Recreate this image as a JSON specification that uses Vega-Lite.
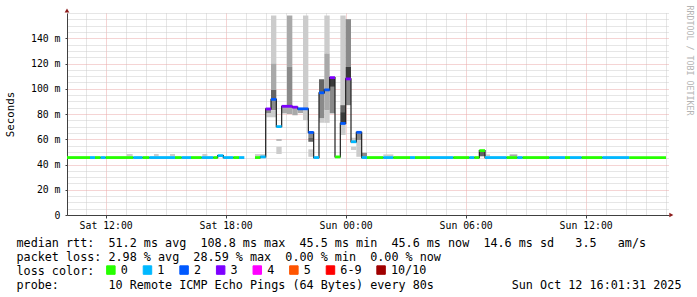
{
  "$schema": "https://vega.github.io/schema/vega-lite/v6.json",
  "width": 602,
  "height": 202,
  "autosize": {"type": "none"},
  "padding": {"left": 67, "top": 13, "right": 28, "bottom": 82},
  "background": "white",
  "config": {"view": {"stroke": null}, "font": "DejaVu Sans Mono"},
  "datasets": {
    "med": [
      {"seg": "a", "t": "2025-10-11T10:04:00Z", "t2": "2025-10-11T11:13:00Z", "v": 45.5, "loss": "0"},
      {"seg": "a", "t": "2025-10-11T11:13:00Z", "t2": "2025-10-11T11:28:00Z", "v": 45.5, "loss": "1"},
      {"seg": "a", "t": "2025-10-11T11:28:00Z", "t2": "2025-10-11T11:45:00Z", "v": 45.5, "loss": "0"},
      {"seg": "a", "t": "2025-10-11T11:45:00Z", "t2": "2025-10-11T12:00:00Z", "v": 45.5, "loss": "1"},
      {"seg": "a", "t": "2025-10-11T12:00:00Z", "t2": "2025-10-11T13:23:00Z", "v": 45.5, "loss": "0"},
      {"seg": "a", "t": "2025-10-11T13:23:00Z", "t2": "2025-10-11T13:51:00Z", "v": 45.5, "loss": "1"},
      {"seg": "a", "t": "2025-10-11T13:51:00Z", "t2": "2025-10-11T14:11:00Z", "v": 45.5, "loss": "0"},
      {"seg": "a", "t": "2025-10-11T14:11:00Z", "t2": "2025-10-11T15:28:00Z", "v": 45.5, "loss": "1"},
      {"seg": "a", "t": "2025-10-11T15:28:00Z", "t2": "2025-10-11T15:48:00Z", "v": 45.5, "loss": "0"},
      {"seg": "a", "t": "2025-10-11T15:48:00Z", "t2": "2025-10-11T16:16:00Z", "v": 45.5, "loss": "1"},
      {"seg": "a", "t": "2025-10-11T16:16:00Z", "t2": "2025-10-11T16:48:00Z", "v": 45.5, "loss": "0"},
      {"seg": "a", "t": "2025-10-11T16:48:00Z", "t2": "2025-10-11T17:23:00Z", "v": 45.5, "loss": "1"},
      {"seg": "a", "t": "2025-10-11T17:23:00Z", "t2": "2025-10-11T17:36:00Z", "v": 45.5, "loss": "0"},
      {"seg": "a", "t": "2025-10-11T17:36:00Z", "t2": "2025-10-11T17:53:00Z", "v": 47, "loss": "1"},
      {"seg": "a", "t": "2025-10-11T17:53:00Z", "t2": "2025-10-11T18:23:00Z", "v": 45.5, "loss": "1"},
      {"seg": "a", "t": "2025-10-11T18:23:00Z", "t2": "2025-10-11T18:40:00Z", "v": 45.5, "loss": "0"},
      {"seg": "a", "t": "2025-10-11T18:40:00Z", "t2": "2025-10-11T18:56:00Z", "v": 45.5, "loss": "1"},
      {"seg": "b", "t": "2025-10-11T19:28:00Z", "t2": "2025-10-11T19:44:00Z", "v": 45.5, "loss": "0"},
      {"seg": "b", "t": "2025-10-11T19:44:00Z", "t2": "2025-10-11T20:00:00Z", "v": 46, "loss": "1"},
      {"seg": "b", "t": "2025-10-11T20:00:00Z", "t2": "2025-10-11T20:16:00Z", "v": 84, "loss": "3"},
      {"seg": "b", "t": "2025-10-11T20:16:00Z", "t2": "2025-10-11T20:32:00Z", "v": 91.6, "loss": "2"},
      {"seg": "b", "t": "2025-10-11T20:32:00Z", "t2": "2025-10-11T20:48:00Z", "v": 70, "loss": "1"},
      {"seg": "b", "t": "2025-10-11T20:48:00Z", "t2": "2025-10-11T21:04:00Z", "v": 86.1, "loss": "3"},
      {"seg": "b", "t": "2025-10-11T21:04:00Z", "t2": "2025-10-11T21:20:00Z", "v": 86.1, "loss": "3"},
      {"seg": "b", "t": "2025-10-11T21:20:00Z", "t2": "2025-10-11T21:36:00Z", "v": 85.4, "loss": "3"},
      {"seg": "b", "t": "2025-10-11T21:36:00Z", "t2": "2025-10-11T21:52:00Z", "v": 84.1, "loss": "2"},
      {"seg": "b", "t": "2025-10-11T21:52:00Z", "t2": "2025-10-11T22:08:00Z", "v": 84.1, "loss": "2"},
      {"seg": "b", "t": "2025-10-11T22:08:00Z", "t2": "2025-10-11T22:24:00Z", "v": 65.4, "loss": "2"},
      {"seg": "b", "t": "2025-10-11T22:24:00Z", "t2": "2025-10-11T22:40:00Z", "v": 45.5, "loss": "1"},
      {"seg": "b", "t": "2025-10-11T22:40:00Z", "t2": "2025-10-11T22:56:00Z", "v": 96.8, "loss": "2"},
      {"seg": "b", "t": "2025-10-11T22:56:00Z", "t2": "2025-10-11T23:12:00Z", "v": 99.1, "loss": "2"},
      {"seg": "b", "t": "2025-10-11T23:12:00Z", "t2": "2025-10-11T23:28:00Z", "v": 108.8, "loss": "3"},
      {"seg": "b", "t": "2025-10-11T23:28:00Z", "t2": "2025-10-11T23:44:00Z", "v": 46, "loss": "0"},
      {"seg": "b", "t": "2025-10-11T23:44:00Z", "t2": "2025-10-12T00:00:00Z", "v": 72.5, "loss": "2"},
      {"seg": "b", "t": "2025-10-12T00:00:00Z", "t2": "2025-10-12T00:16:00Z", "v": 107.8, "loss": "3"},
      {"seg": "b", "t": "2025-10-12T00:16:00Z", "t2": "2025-10-12T00:32:00Z", "v": 58, "loss": "1"},
      {"seg": "b", "t": "2025-10-12T00:32:00Z", "t2": "2025-10-12T00:48:00Z", "v": 65.5, "loss": "2"},
      {"seg": "b", "t": "2025-10-12T00:48:00Z", "t2": "2025-10-12T01:04:00Z", "v": 45.5, "loss": "1"},
      {"seg": "b", "t": "2025-10-12T01:04:00Z", "t2": "2025-10-12T01:53:00Z", "v": 45.5, "loss": "0"},
      {"seg": "b", "t": "2025-10-12T01:53:00Z", "t2": "2025-10-12T02:23:00Z", "v": 45.5, "loss": "1"},
      {"seg": "b", "t": "2025-10-12T02:23:00Z", "t2": "2025-10-12T03:13:00Z", "v": 45.5, "loss": "0"},
      {"seg": "b", "t": "2025-10-12T03:13:00Z", "t2": "2025-10-12T03:28:00Z", "v": 45.5, "loss": "1"},
      {"seg": "b", "t": "2025-10-12T03:28:00Z", "t2": "2025-10-12T04:13:00Z", "v": 45.5, "loss": "0"},
      {"seg": "b", "t": "2025-10-12T04:13:00Z", "t2": "2025-10-12T05:23:00Z", "v": 45.5, "loss": "1"},
      {"seg": "b", "t": "2025-10-12T05:23:00Z", "t2": "2025-10-12T06:11:00Z", "v": 45.5, "loss": "0"},
      {"seg": "b", "t": "2025-10-12T06:11:00Z", "t2": "2025-10-12T06:26:00Z", "v": 45.5, "loss": "1"},
      {"seg": "b", "t": "2025-10-12T06:26:00Z", "t2": "2025-10-12T06:41:00Z", "v": 45.5, "loss": "0"},
      {"seg": "b", "t": "2025-10-12T06:41:00Z", "t2": "2025-10-12T06:58:00Z", "v": 51, "loss": "0"},
      {"seg": "b", "t": "2025-10-12T06:58:00Z", "t2": "2025-10-12T08:03:00Z", "v": 45.5, "loss": "1"},
      {"seg": "b", "t": "2025-10-12T08:03:00Z", "t2": "2025-10-12T08:35:00Z", "v": 45.5, "loss": "0"},
      {"seg": "b", "t": "2025-10-12T08:35:00Z", "t2": "2025-10-12T08:51:00Z", "v": 45.5, "loss": "1"},
      {"seg": "b", "t": "2025-10-12T08:51:00Z", "t2": "2025-10-12T10:11:00Z", "v": 45.5, "loss": "0"},
      {"seg": "b", "t": "2025-10-12T10:11:00Z", "t2": "2025-10-12T10:58:00Z", "v": 45.5, "loss": "1"},
      {"seg": "b", "t": "2025-10-12T10:58:00Z", "t2": "2025-10-12T11:13:00Z", "v": 45.5, "loss": "0"},
      {"seg": "b", "t": "2025-10-12T11:13:00Z", "t2": "2025-10-12T11:48:00Z", "v": 45.5, "loss": "1"},
      {"seg": "b", "t": "2025-10-12T11:48:00Z", "t2": "2025-10-12T12:50:00Z", "v": 45.5, "loss": "0"},
      {"seg": "b", "t": "2025-10-12T12:50:00Z", "t2": "2025-10-12T14:11:00Z", "v": 45.5, "loss": "1"},
      {"seg": "b", "t": "2025-10-12T14:11:00Z", "t2": "2025-10-12T16:01:00Z", "v": 45.5, "loss": "0"}
    ],
    "smoke": [
      {"t": "2025-10-11T13:03:00Z", "t2": "2025-10-11T13:21:00Z", "lo": 46.5, "hi": 48.3, "shade": "s1"},
      {"t": "2025-10-11T14:25:00Z", "t2": "2025-10-11T14:39:00Z", "lo": 46.5, "hi": 48.3, "shade": "s1"},
      {"t": "2025-10-11T15:13:00Z", "t2": "2025-10-11T15:28:00Z", "lo": 46.5, "hi": 48.3, "shade": "s1"},
      {"t": "2025-10-11T16:50:00Z", "t2": "2025-10-11T17:05:00Z", "lo": 46.5, "hi": 48.3, "shade": "s1"},
      {"t": "2025-10-11T19:28:00Z", "t2": "2025-10-11T20:00:00Z", "lo": 46.5, "hi": 48.2, "shade": "s1"},
      {"t": "2025-10-12T01:53:00Z", "t2": "2025-10-12T02:23:00Z", "lo": 46.5, "hi": 48, "shade": "s1"},
      {"t": "2025-10-12T06:58:00Z", "t2": "2025-10-12T07:13:00Z", "lo": 46.5, "hi": 48, "shade": "s1"},
      {"t": "2025-10-12T08:12:00Z", "t2": "2025-10-12T08:35:00Z", "lo": 46.5, "hi": 48, "shade": "s2"},
      {"t": "2025-10-12T06:41:00Z", "t2": "2025-10-12T06:58:00Z", "lo": 46.5, "hi": 50, "shade": "s4"},
      {"t": "2025-10-11T20:00:00Z", "t2": "2025-10-11T20:16:00Z", "lo": 80.5, "hi": 84, "shade": "s3"},
      {"t": "2025-10-11T20:00:00Z", "t2": "2025-10-11T20:16:00Z", "lo": 77.4, "hi": 80.5, "shade": "s1"},
      {"t": "2025-10-11T20:16:00Z", "t2": "2025-10-11T20:32:00Z", "lo": 120, "hi": 158, "shade": "s1"},
      {"t": "2025-10-11T20:16:00Z", "t2": "2025-10-11T20:32:00Z", "lo": 99, "hi": 120, "shade": "s2"},
      {"t": "2025-10-11T20:16:00Z", "t2": "2025-10-11T20:32:00Z", "lo": 92, "hi": 99, "shade": "s4"},
      {"t": "2025-10-11T20:16:00Z", "t2": "2025-10-11T20:32:00Z", "lo": 83, "hi": 92, "shade": "s3"},
      {"t": "2025-10-11T20:16:00Z", "t2": "2025-10-11T20:32:00Z", "lo": 77.4, "hi": 83, "shade": "s1"},
      {"t": "2025-10-11T20:32:00Z", "t2": "2025-10-11T20:48:00Z", "lo": 58.8, "hi": 60, "shade": "s2"},
      {"t": "2025-10-11T20:32:00Z", "t2": "2025-10-11T20:48:00Z", "lo": 48.3, "hi": 54, "shade": "s1"},
      {"t": "2025-10-11T20:48:00Z", "t2": "2025-10-11T21:04:00Z", "lo": 80.5, "hi": 86, "shade": "s2"},
      {"t": "2025-10-11T21:04:00Z", "t2": "2025-10-11T21:20:00Z", "lo": 117.3, "hi": 158, "shade": "s2"},
      {"t": "2025-10-11T21:04:00Z", "t2": "2025-10-11T21:20:00Z", "lo": 86, "hi": 117.3, "shade": "s3"},
      {"t": "2025-10-11T21:04:00Z", "t2": "2025-10-11T21:20:00Z", "lo": 80, "hi": 86, "shade": "s2"},
      {"t": "2025-10-11T21:20:00Z", "t2": "2025-10-11T21:36:00Z", "lo": 79, "hi": 85.4, "shade": "s2"},
      {"t": "2025-10-11T21:36:00Z", "t2": "2025-10-11T21:52:00Z", "lo": 80.7, "hi": 84, "shade": "s2"},
      {"t": "2025-10-11T21:52:00Z", "t2": "2025-10-11T22:08:00Z", "lo": 84, "hi": 158, "shade": "s1"},
      {"t": "2025-10-11T21:52:00Z", "t2": "2025-10-11T22:08:00Z", "lo": 75.2, "hi": 84, "shade": "s1"},
      {"t": "2025-10-11T22:08:00Z", "t2": "2025-10-11T22:24:00Z", "lo": 61, "hi": 65.4, "shade": "s3"},
      {"t": "2025-10-11T22:08:00Z", "t2": "2025-10-11T22:24:00Z", "lo": 58, "hi": 61, "shade": "s4"},
      {"t": "2025-10-11T22:08:00Z", "t2": "2025-10-11T22:24:00Z", "lo": 46.1, "hi": 52, "shade": "s1"},
      {"t": "2025-10-11T22:40:00Z", "t2": "2025-10-11T22:56:00Z", "lo": 96.8, "hi": 107.6, "shade": "s4"},
      {"t": "2025-10-11T22:40:00Z", "t2": "2025-10-11T22:56:00Z", "lo": 76.5, "hi": 96.8, "shade": "s3"},
      {"t": "2025-10-11T22:40:00Z", "t2": "2025-10-11T22:56:00Z", "lo": 73, "hi": 76.5, "shade": "s1"},
      {"t": "2025-10-11T22:56:00Z", "t2": "2025-10-11T23:12:00Z", "lo": 127.9, "hi": 158, "shade": "s1"},
      {"t": "2025-10-11T22:56:00Z", "t2": "2025-10-11T23:12:00Z", "lo": 99.1, "hi": 127.9, "shade": "s2"},
      {"t": "2025-10-11T22:56:00Z", "t2": "2025-10-11T23:12:00Z", "lo": 83.1, "hi": 99.1, "shade": "s2"},
      {"t": "2025-10-11T22:56:00Z", "t2": "2025-10-11T23:12:00Z", "lo": 73, "hi": 83.1, "shade": "s1"},
      {"t": "2025-10-11T23:12:00Z", "t2": "2025-10-11T23:28:00Z", "lo": 101.5, "hi": 108.8, "shade": "s5"},
      {"t": "2025-10-11T23:12:00Z", "t2": "2025-10-11T23:28:00Z", "lo": 80.5, "hi": 101.5, "shade": "s3"},
      {"t": "2025-10-11T23:44:00Z", "t2": "2025-10-12T00:00:00Z", "lo": 87, "hi": 158, "shade": "s1"},
      {"t": "2025-10-11T23:44:00Z", "t2": "2025-10-12T00:00:00Z", "lo": 81.5, "hi": 87, "shade": "s4"},
      {"t": "2025-10-11T23:44:00Z", "t2": "2025-10-12T00:00:00Z", "lo": 72.5, "hi": 81.5, "shade": "s5"},
      {"t": "2025-10-11T23:44:00Z", "t2": "2025-10-12T00:00:00Z", "lo": 63.4, "hi": 72.5, "shade": "s1"},
      {"t": "2025-10-12T00:00:00Z", "t2": "2025-10-12T00:16:00Z", "lo": 117.3, "hi": 155.1, "shade": "s3"},
      {"t": "2025-10-12T00:00:00Z", "t2": "2025-10-12T00:16:00Z", "lo": 107.8, "hi": 117.3, "shade": "s5"},
      {"t": "2025-10-12T00:00:00Z", "t2": "2025-10-12T00:16:00Z", "lo": 87, "hi": 107.8, "shade": "s3"},
      {"t": "2025-10-12T00:16:00Z", "t2": "2025-10-12T00:32:00Z", "lo": 58, "hi": 61.2, "shade": "s1"},
      {"t": "2025-10-12T00:16:00Z", "t2": "2025-10-12T00:32:00Z", "lo": 51.5, "hi": 54, "shade": "s1"},
      {"t": "2025-10-12T00:32:00Z", "t2": "2025-10-12T00:48:00Z", "lo": 59.3, "hi": 65.5, "shade": "s3"},
      {"t": "2025-10-12T00:32:00Z", "t2": "2025-10-12T00:48:00Z", "lo": 46.1, "hi": 59.3, "shade": "s1"},
      {"t": "2025-10-12T00:48:00Z", "t2": "2025-10-12T01:04:00Z", "lo": 46.1, "hi": 49.3, "shade": "s3"}
    ],
    "arrowx": [{"t": "2025-10-12T16:17:00Z", "v": 0}],
    "arrowy": [{"t": "2025-10-11T10:04:00Z", "v": 162}]
  },
  "layer": [
    {
      "data": {"name": "smoke"},
      "mark": {"type": "rect", "strokeWidth": 0},
      "encoding": {
        "x": {
          "field": "t", "type": "temporal",
          "scale": {"type": "utc", "domain": [{"year": 2025, "month": 10, "date": 11, "hours": 10, "minutes": 4, "utc": true}, {"year": 2025, "month": 10, "date": 12, "hours": 16, "minutes": 10, "utc": true}], "nice": false},
          "axis": {
            "orient": "bottom",
            "values": [
              {"year": 2025, "month": 10, "date": 11, "hours": 11, "utc": true},
              {"year": 2025, "month": 10, "date": 11, "hours": 13, "utc": true},
              {"year": 2025, "month": 10, "date": 11, "hours": 14, "utc": true},
              {"year": 2025, "month": 10, "date": 11, "hours": 15, "utc": true},
              {"year": 2025, "month": 10, "date": 11, "hours": 16, "utc": true},
              {"year": 2025, "month": 10, "date": 11, "hours": 17, "utc": true},
              {"year": 2025, "month": 10, "date": 11, "hours": 19, "utc": true},
              {"year": 2025, "month": 10, "date": 11, "hours": 20, "utc": true},
              {"year": 2025, "month": 10, "date": 11, "hours": 21, "utc": true},
              {"year": 2025, "month": 10, "date": 11, "hours": 22, "utc": true},
              {"year": 2025, "month": 10, "date": 11, "hours": 23, "utc": true},
              {"year": 2025, "month": 10, "date": 12, "hours": 1, "utc": true},
              {"year": 2025, "month": 10, "date": 12, "hours": 2, "utc": true},
              {"year": 2025, "month": 10, "date": 12, "hours": 3, "utc": true},
              {"year": 2025, "month": 10, "date": 12, "hours": 4, "utc": true},
              {"year": 2025, "month": 10, "date": 12, "hours": 5, "utc": true},
              {"year": 2025, "month": 10, "date": 12, "hours": 7, "utc": true},
              {"year": 2025, "month": 10, "date": 12, "hours": 8, "utc": true},
              {"year": 2025, "month": 10, "date": 12, "hours": 9, "utc": true},
              {"year": 2025, "month": 10, "date": 12, "hours": 10, "utc": true},
              {"year": 2025, "month": 10, "date": 12, "hours": 11, "utc": true},
              {"year": 2025, "month": 10, "date": 12, "hours": 13, "utc": true},
              {"year": 2025, "month": 10, "date": 12, "hours": 14, "utc": true},
              {"year": 2025, "month": 10, "date": 12, "hours": 15, "utc": true},
              {"year": 2025, "month": 10, "date": 12, "hours": 16, "utc": true}
            ],
            "grid": true, "gridColor": "#cdcdcd", "gridDash": [1, 1], "gridWidth": 1,
            "labels": false, "ticks": false, "domain": false, "title": null
          }
        },
        "x2": {"field": "t2"},
        "y": {
          "field": "lo", "type": "quantitative",
          "scale": {"domain": [0, 160], "nice": false, "zero": true},
          "axis": {
            "orient": "left",
            "values": [5, 10, 15, 25, 30, 35, 45, 50, 55, 65, 70, 75, 85, 90, 95, 105, 110, 115, 125, 130, 135, 145, 150, 155, 160],
            "grid": true, "gridColor": "#cdcdcd", "gridDash": [1, 1], "gridWidth": 1,
            "labels": false, "ticks": false, "domain": false, "title": null
          }
        },
        "y2": {"field": "hi"},
        "fill": {
          "field": "shade", "type": "nominal",
          "scale": {"domain": ["s1", "s2", "s3", "s4", "s5"], "range": ["#cccccc", "#a9a9a9", "#8a8a8a", "#646464", "#3a3a3a"]},
          "legend": null
        }
      }
    },
    {
      "data": {"name": "med"},
      "mark": {"type": "line", "interpolate": "step-after", "color": "#202020", "strokeWidth": 1.2},
      "encoding": {
        "x": {
          "field": "t", "type": "temporal",
          "scale": {"type": "utc", "domain": [{"year": 2025, "month": 10, "date": 11, "hours": 10, "minutes": 4, "utc": true}, {"year": 2025, "month": 10, "date": 12, "hours": 16, "minutes": 10, "utc": true}], "nice": false},
          "axis": {
            "orient": "bottom",
            "values": [
              {"year": 2025, "month": 10, "date": 11, "hours": 12, "utc": true},
              {"year": 2025, "month": 10, "date": 11, "hours": 18, "utc": true},
              {"year": 2025, "month": 10, "date": 12, "hours": 0, "utc": true},
              {"year": 2025, "month": 10, "date": 12, "hours": 6, "utc": true},
              {"year": 2025, "month": 10, "date": 12, "hours": 12, "utc": true}
            ],
            "labelExpr": "utcFormat(datum.value, '%a %H:%M')",
            "grid": true, "gridColor": "#eaa8a8", "gridDash": [1, 1], "gridWidth": 1,
            "domain": true, "domainColor": "#404040", "domainWidth": 1,
            "ticks": true, "tickSize": 3, "tickColor": "#404040",
            "labelFont": "DejaVu Sans Mono", "labelFontSize": 9.8, "labelColor": "#000000",
            "labelPadding": 2, "labelFlush": false, "labelOverlap": false,
            "title": [
              "median rtt:\u00a0\u00a051.2 ms avg\u00a0\u00a0108.8 ms max\u00a0\u00a045.5 ms min\u00a0\u00a045.6 ms now\u00a0\u00a014.6 ms sd\u00a0\u00a0\u00a03.5\u00a0\u00a0\u00a0am/s",
              "packet loss: 2.98 % avg\u00a0\u00a028.59 % max\u00a0\u00a00.00 % min\u00a0\u00a00.00 % now",
              "loss color:",
              "probe:\u00a0\u00a0\u00a0\u00a0\u00a0\u00a0\u00a010 Remote ICMP Echo Pings (64 Bytes) every 80s\u00a0\u00a0\u00a0\u00a0\u00a0\u00a0\u00a0\u00a0\u00a0\u00a0\u00a0Sun Oct 12 16:01:31 2025"
            ],
            "titleFont": "DejaVu Sans Mono", "titleFontSize": 11.75, "titleFontWeight": "normal", "titleColor": "#000000",
            "titleAnchor": "start", "titleAlign": "left", "titleBaseline": "alphabetic", "titleAngle": 0,
            "titleX": -51, "titleY": 31, "titleLineHeight": 14.3
          }
        },
        "y": {
          "field": "v", "type": "quantitative",
          "scale": {"domain": [0, 160], "nice": false, "zero": true},
          "axis": {
            "orient": "left",
            "values": [0, 20, 40, 60, 80, 100, 120, 140],
            "labelExpr": "datum.value == 0 ? '0' : datum.value + ' m'",
            "grid": true, "gridColor": "#eaa8a8", "gridDash": [1, 1], "gridWidth": 1,
            "domain": true, "domainColor": "#404040", "domainWidth": 1,
            "ticks": true, "tickSize": 2, "tickColor": "#404040",
            "labelFont": "DejaVu Sans Mono", "labelFontSize": 9.8, "labelColor": "#000000",
            "labelPadding": 5, "labelOverlap": false, "labelFlush": false,
            "title": "Seconds",
            "titleFont": "DejaVu Sans Mono", "titleFontSize": 10.8, "titleFontWeight": "normal", "titleColor": "#000000",
            "titleAngle": -90, "titleAlign": "center", "titleBaseline": "middle",
            "titleX": -56.5, "titleY": 101
          }
        },
        "detail": {"field": "seg", "type": "nominal"}
      }
    },
    {
      "data": {"name": "med"},
      "mark": {"type": "rule", "strokeWidth": 2.8, "strokeCap": "butt"},
      "encoding": {
        "x": {"field": "t", "type": "temporal", "axis": null},
        "x2": {"field": "t2"},
        "y": {"field": "v", "type": "quantitative", "axis": null},
        "color": {
          "field": "loss", "type": "nominal",
          "scale": {"domain": ["0", "1", "2", "3", "4", "5", "6-9", "10/10"], "range": ["#26ff00", "#00b8ff", "#0059ff", "#7e00ff", "#ff00ff", "#ff5500", "#ff0000", "#a00000"]},
          "legend": {
            "orient": "none", "legendX": 38, "legendY": 251,
            "direction": "horizontal", "columns": 8,
            "title": null,
            "symbolType": "square", "symbolSize": 72, "symbolStrokeColor": "#000000", "symbolStrokeWidth": 1,
            "labelFont": "DejaVu Sans Mono", "labelFontSize": 11.75, "labelColor": "#000000", "labelOffset": 4,
            "columnPadding": 12.6, "padding": 0,
            "encode": {
              "symbols": {
                "update": {
                  "fill": {"scale": "color", "field": "value"},
                  "stroke": {"value": "#000000"},
                  "strokeWidth": {"value": 1},
                  "shape": {"value": "square"},
                  "size": {"value": 72},
                  "opacity": {"value": 1}
                }
              }
            }
          }
        }
      }
    },
    {
      "data": {"name": "arrowx"},
      "mark": {"type": "point", "shape": "triangle-right", "filled": true, "size": 22, "color": "#8c1c1c", "opacity": 1},
      "encoding": {
        "x": {"field": "t", "type": "temporal", "axis": null},
        "y": {"field": "v", "type": "quantitative", "axis": null}
      }
    },
    {
      "data": {"name": "arrowy"},
      "mark": {"type": "point", "shape": "triangle-up", "filled": true, "size": 22, "color": "#8c1c1c", "opacity": 1},
      "encoding": {
        "x": {"field": "t", "type": "temporal", "axis": null},
        "y": {
          "field": "v", "type": "quantitative",
          "axis": {
            "orient": "right", "labels": false, "ticks": false, "domain": false, "grid": false,
            "title": "RRDTOOL / TOBI OETIKER",
            "titleFont": "DejaVu Sans Mono", "titleFontSize": 8.3, "titleFontWeight": "normal", "titleColor": "#b4b4b4",
            "titleAngle": 90, "titleAlign": "left", "titleBaseline": "middle",
            "titleX": 19, "titleY": -8
          }
        }
      }
    }
  ],
  "resolve": {"axis": {"x": "independent", "y": "independent"}}
}
